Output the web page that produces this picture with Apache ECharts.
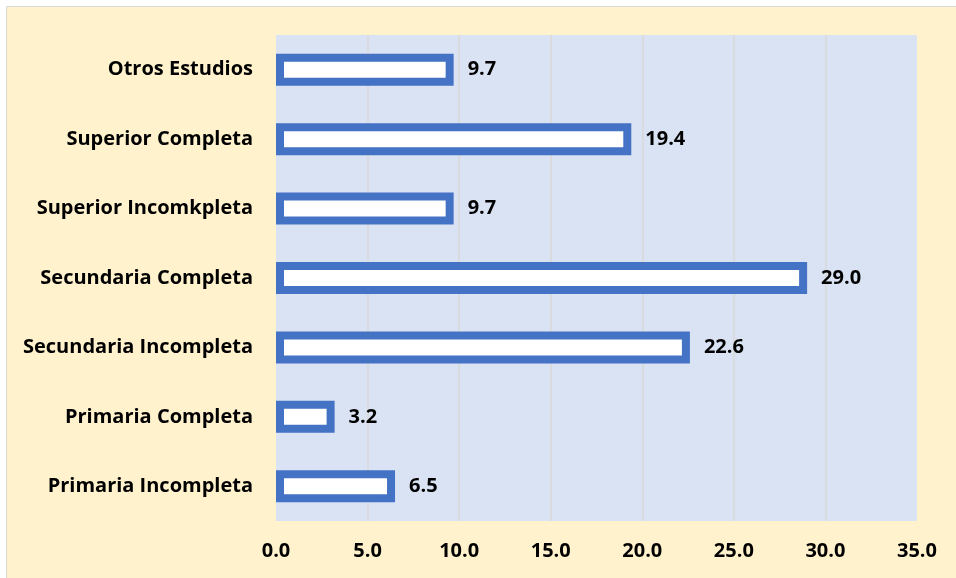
<!DOCTYPE html>
<html>
<head>
<meta charset="utf-8">
<script src="https://cdn.jsdelivr.net/npm/echarts@6/dist/echarts.min.js"></script>
<style>
html,body{margin:0;padding:0;background:#fff;width:956px;height:578px;overflow:hidden;}
#c{position:absolute;left:6px;top:6px;width:950px;height:572px;border-left:1px solid #D9D9D9;border-top:1px solid #D9D9D9;background:#FFF2CC;}
</style>
</head>
<body>
<div id="c"></div>
<script>
const categories = ["Otros Estudios","Superior Completa","Superior Incomkpleta","Secundaria Completa","Secundaria Incompleta","Primaria Completa","Primaria Incompleta"];
const values = [9.7, 19.4, 9.7, 29.0, 22.6, 3.2, 6.5];
const xTicks = {min: 0, max: 35, interval: 5};

const FONT = 'Open Sans';
const chart = echarts.init(document.getElementById('c'), null, {renderer: 'canvas'});
chart.setOption({
  backgroundColor: '#FFF2CC',
  animation: false,
  grid: {left: 269, top: 28, width: 641, height: 486, show: true, backgroundColor: '#DAE3F3', borderWidth: 0},
  xAxis: {
    type: 'value', min: xTicks.min, max: xTicks.max, interval: xTicks.interval,
    axisLine: {show: false}, axisTick: {show: false},
    splitLine: {show: true, showMinLine: false, showMaxLine: false, lineStyle: {color: '#D9D9D9', width: 1.5}},
    axisLabel: {margin: 20, color: '#000', fontFamily: FONT, fontWeight: 'bold', fontSize: 20, formatter: v => v.toFixed(1)}
  },
  yAxis: {
    type: 'category', data: categories, inverse: true,
    axisLine: {show: false}, axisTick: {show: false}, splitLine: {show: false},
    axisLabel: {margin: 23, color: '#000', fontFamily: FONT, fontWeight: 'bold', fontSize: 20}
  },
  series: [{
    type: 'bar', data: values, barWidth: 32,
    itemStyle: {color: '#FFFFFF', borderColor: '#4472C4', borderWidth: 8},
    label: {show: true, position: 'right', distance: 14, color: '#000', fontFamily: FONT, fontWeight: 'bold', fontSize: 20, formatter: p => p.value.toFixed(1)}
  }]
});
</script>
</body>
</html>
